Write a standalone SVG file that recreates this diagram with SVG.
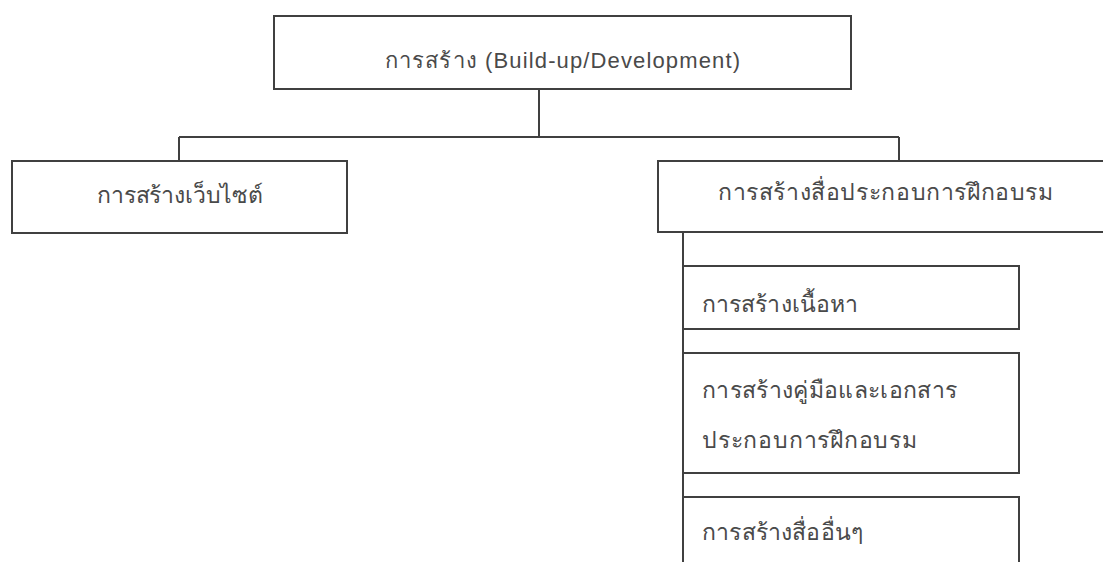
<svg xmlns="http://www.w3.org/2000/svg" width="1103" height="562" viewBox="0 0 1103 562">
<style>
.box{fill:#ffffff;stroke:#404040;stroke-width:2}
.con{fill:none;stroke:#404040;stroke-width:2}
.t{font-family:"Liberation Sans","Noto Sans","DejaVu Sans",sans-serif;fill:#4a4a4a;font-size:23px}
.tt{font-size:22px}
</style>
<rect x="0" y="0" width="1103" height="562" fill="#ffffff"/>
<g id="connectors">
<path class="con" d="M539 89V137M179 137H899M179 137V161M899 137V161M683 232V562"/>
</g>
<g id="root">
<rect class="box" x="274" y="16" width="577" height="73"/>
<text class="t tt" x="385" y="68" textLength="355" lengthAdjust="spacing">การสร้าง (Build-up/Development)</text>
</g>
<g id="website">
<rect class="box" x="12" y="161" width="335" height="72"/>
<text class="t" x="97" y="203" textLength="166" lengthAdjust="spacing">การสร้างเว็บไซต์</text>
</g>
<g id="media">
<rect class="box" x="658" y="161" width="460" height="71"/>
<text class="t" x="718" y="200" textLength="335" lengthAdjust="spacing">การสร้างสื่อประกอบการฝึกอบรม</text>
</g>
<g id="content">
<rect class="box" x="683" y="266" width="336" height="63"/>
<text class="t" x="702" y="312" textLength="156" lengthAdjust="spacing">การสร้างเนื้อหา</text>
</g>
<g id="manual">
<rect class="box" x="683" y="353" width="336" height="120"/>
<text class="t" x="702" y="398" textLength="255" lengthAdjust="spacing">การสร้างคู่มือและเอกสาร</text>
<text class="t" x="702" y="448" textLength="215" lengthAdjust="spacing">ประกอบการฝึกอบรม</text>
</g>
<g id="other">
<rect class="box" x="683" y="497" width="336" height="80"/>
<text class="t" x="702" y="540" textLength="161" lengthAdjust="spacing">การสร้างสื่ออื่นๆ</text>
</g>
</svg>
